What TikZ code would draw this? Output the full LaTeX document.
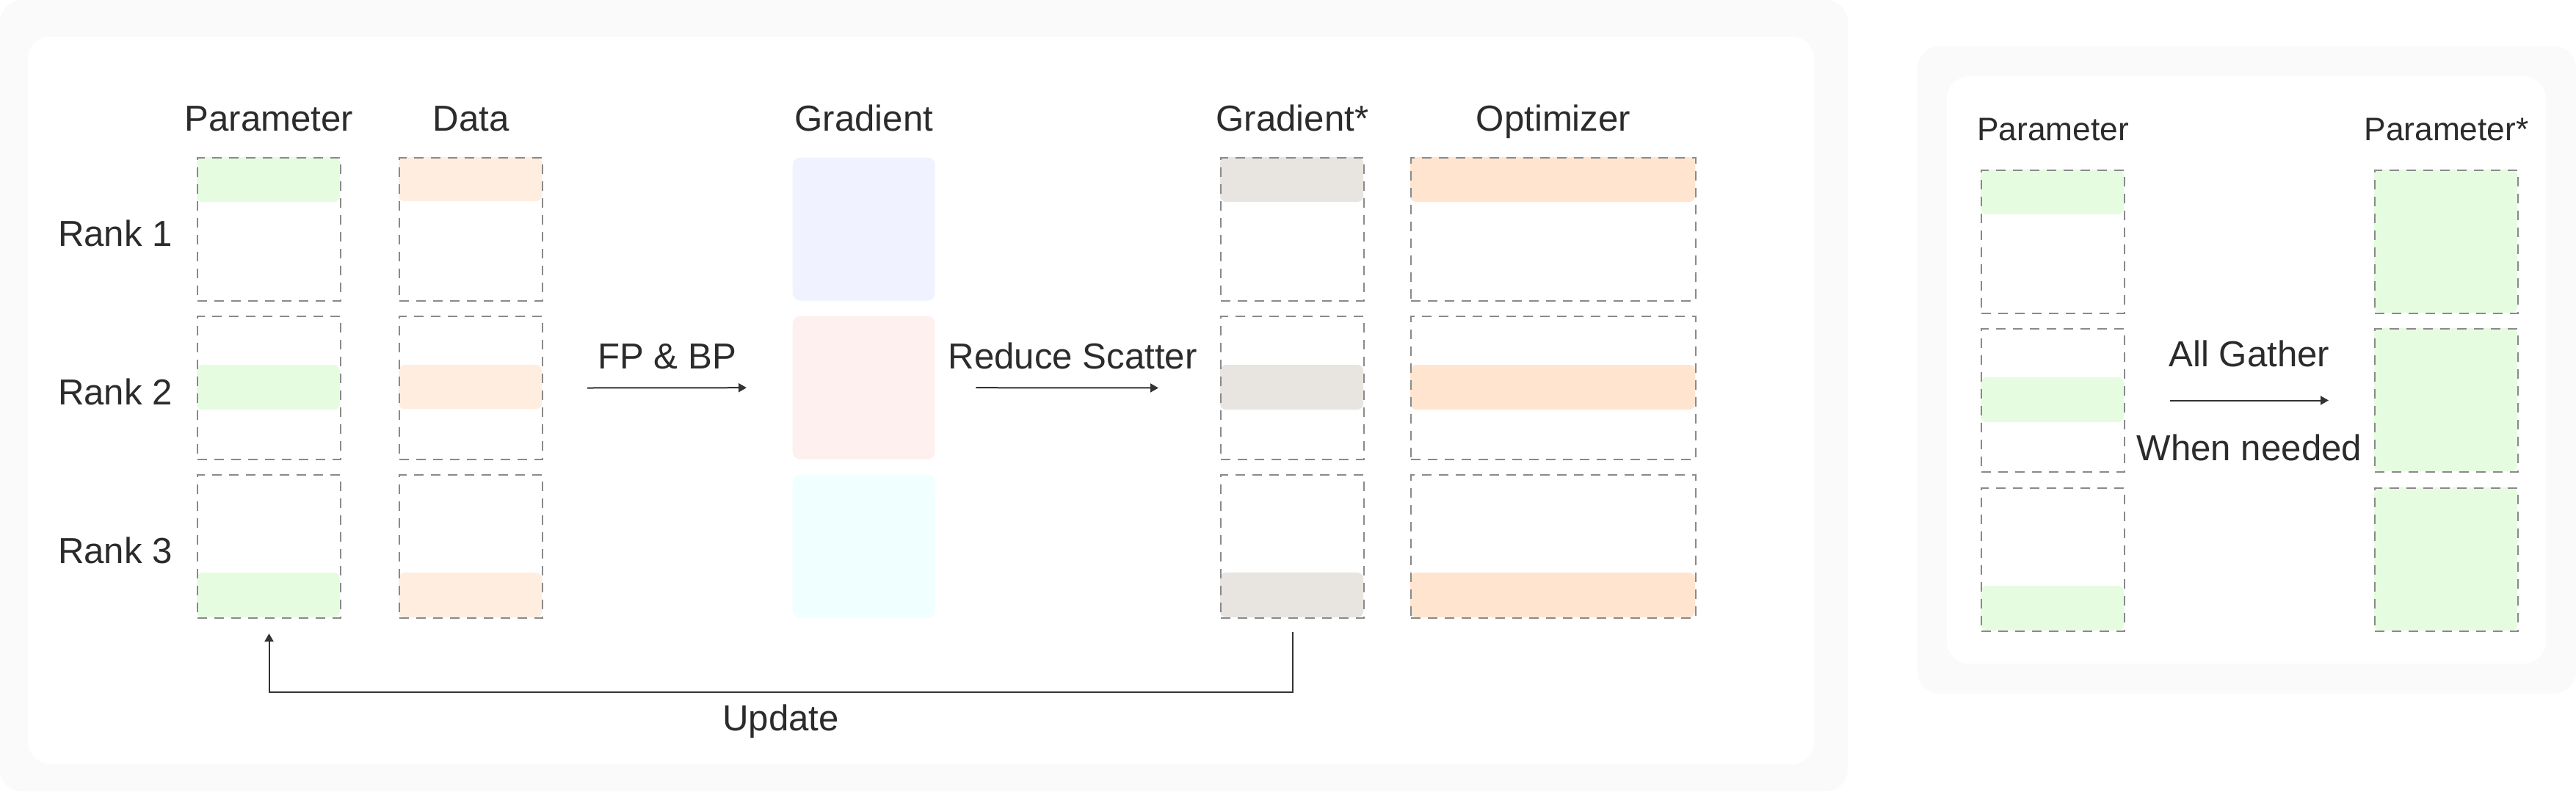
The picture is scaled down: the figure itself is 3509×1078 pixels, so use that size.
\documentclass[tikz,border=0pt]{standalone}
\usepackage{fontspec}
\setmainfont{Liberation Sans}
\usepackage{tikz}
\usetikzlibrary{arrows.meta}
\definecolor{panelgray}{HTML}{FAFAFA}
\definecolor{dashgray}{HTML}{8A8A8A}
\definecolor{textdark}{HTML}{2B2B2B}
\definecolor{arrowdark}{HTML}{333333}
\definecolor{paramgreen}{HTML}{E6FCE0}
\definecolor{datapeach}{HTML}{FFEDE0}
\definecolor{gradblue}{HTML}{F0F3FF}
\definecolor{gradpink}{HTML}{FFF0F0}
\definecolor{gradcyan}{HTML}{F0FFFF}
\definecolor{gradgray}{HTML}{E8E5E0}
\definecolor{optpeach}{HTML}{FFE5D0}
\tikzstyle{shard} = [draw=dashgray, line width=0.2mm, dash pattern=on 1.3mm off 1mm, inner sep=0, anchor=north west, minimum height=19.5mm]
\tikzstyle{block} = [rounded corners=1mm, inner sep=0, anchor=north west, minimum height=19.5mm, minimum width=19.4mm]
\tikzstyle{head} = [text=textdark, font=\fontsize{14}{17}\selectfont, anchor=base, inner sep=0]
\tikzstyle{smallhead} = [head, font=\fontsize{12.6}{15}\selectfont]
\tikzstyle{flow} = [draw=arrowdark, line width=0.2mm, -{Triangle[length=1.1mm,width=1.2mm]}]
\newcommand{\shard}[6][white]{
 \begin{scope}[shift={(#3)}]
  \fill[#1,rounded corners=0.8mm] (0,#5) rectangle ++(#4,#6);
  \node[shard,minimum width=#4*0.1mm] (#2) at (0,0) {};
 \end{scope}
}

\begin{document}
\begin{tikzpicture}[x=0.1mm,y=-0.1mm]
    \useasboundingbox (0,0) rectangle (3509,1078);
    \fill[white] (0,0) rectangle (3509,1078);
    \fill[panelgray,rounded corners=3mm] (0,0) rectangle (2517,1078);
    \fill[white,rounded corners=3mm] (38,50) rectangle (2471,1041);
    \fill[panelgray,rounded corners=3mm] (2612,63) rectangle (3509,945);
    \fill[white,rounded corners=3mm] (2652,104) rectangle (3468,904);

    % sharded training
    \shard[paramgreen]{p1}{268,214}{195}{0}{61}
    \shard[paramgreen]{p2}{268,430}{195}{67}{61}
    \shard[paramgreen]{p3}{268,646}{195}{134}{61}
    \shard[datapeach]{d1}{543,214}{195}{0}{60}
    \shard[datapeach]{d2}{543,430}{195}{67}{60}
    \shard[datapeach]{d3}{543,646}{195}{134}{61}
    \node[block,fill=gradblue] (g1) at (1079,214) {};
    \node[block,fill=gradpink] (g2) at (1079,430) {};
    \node[block,fill=gradcyan] (g3) at (1079,646) {};
    \shard[gradgray]{s1}{1662,214}{195}{0}{61}
    \shard[gradgray]{s2}{1662,430}{195}{67}{61}
    \shard[gradgray]{s3}{1662,646}{195}{134}{61}
    \shard[optpeach]{o1}{1921,214}{388}{0}{61}
    \shard[optpeach]{o2}{1921,430}{388}{67}{61}
    \shard[optpeach]{o3}{1921,646}{388}{134}{61}

    \path (0,178) coordinate (headline);
    \node[head] (hparam) at (p1.north |- headline) {Parameter};
    \node[head] (hdata) at (d1.north |- headline) {Data};
    \node[head] (hgrad) at (g1.north |- headline) {Gradient};
    \node[head] (hgradstar) at (s1.north |- headline) {Gradient*};
    \node[head] (hopt) at (o1.north |- headline) {Optimizer};
    \node[head] (rank1) at (157,335) {Rank 1};
    \node[head] (rank2) at (157,551) {Rank 2};
    \node[head] (rank3) at (157,767) {Rank 3};

    \draw[flow] ([xshift=6mm]d2.east) -- node[head,yshift=2.6mm] (fpbp) {FP \& BP} ([xshift=-6.2mm]g2.west);
    \draw[flow] ([xshift=5.5mm]g2.east) -- node[head,yshift=2.6mm,xshift=0.75mm] (rs) {Reduce Scatter} ([xshift=-8.4mm]s2.west);

    % update loop
    \path (0,943) coordinate (updline);
    \draw[flow] ([yshift=-1.8mm]s3.south) -- (s3.south |- updline) -- node[head,yshift=-5.2mm] (upd) {Update} (p3.south |- updline) -- ([yshift=-2mm]p3.south);

    % gather
    \shard[paramgreen]{q1}{2698,231}{195}{0}{61}
    \shard[paramgreen]{q2}{2698,447}{195}{67}{61}
    \shard[paramgreen]{q3}{2698,664}{195}{134}{61}
    \shard[paramgreen]{qs1}{3234,231}{195}{0}{195}
    \shard[paramgreen]{qs2}{3234,447}{195}{0}{195}
    \shard[paramgreen]{qs3}{3234,664}{195}{0}{195}

    \path (0,191) coordinate (rheadline);
    \node[smallhead] (hq) at (q1.north |- rheadline) {Parameter};
    \node[smallhead] (hqs) at (qs1.north |- rheadline) {Parameter*};

    \draw[flow] ([xshift=6.1mm]q2.east) -- node[head,yshift=4.6mm] (ag) {All Gather} node[head,yshift=-8.2mm] (wn) {When needed} ([xshift=-6.2mm]qs2.west);
\end{tikzpicture}
\end{document}
